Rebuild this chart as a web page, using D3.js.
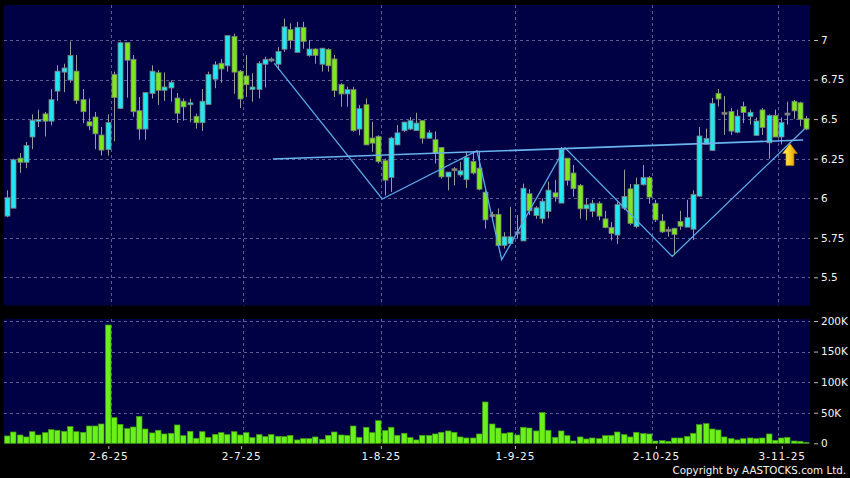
<!DOCTYPE html>
<meta charset="utf-8">
<head>
  <title>Candles</title>
</head>

<style>
body {
  margin: 0;
  background: #000;
}
svg text {
  font-family: "DejaVu Sans", sans-serif;
}
</style>

<body>
  <svg width="850" height="478"></svg>

  <script src="https://cdnjs.cloudflare.com/ajax/libs/d3/7.8.5/d3.min.js"></script>

  <script>
// Daily prices, mid May 2025 to early Nov 2025
var open = [5.89,5.94,6.25,6.23,6.39,6.49,6.53,6.49,6.68,6.80,6.75,6.80,6.62,6.48,6.51,6.396,
  6.31,6.78,6.57,6.98,6.875,6.55,6.44,6.665,6.79,6.685,6.70,6.63,6.61,6.595,6.515,6.48,
  6.595,6.755,6.85,6.84,7.02,6.80,6.77,6.69,6.69,6.85,6.877,6.85,6.945,7.063,6.925,7.077,
  6.905,6.94,6.85,6.937,6.877,6.715,6.662,6.683,6.44,6.588,6.377,6.388,6.234,6.134,6.34,6.43,
  6.44,6.43,6.487,6.382,6.367,6.318,6.138,6.183,6.15,6.12,6.23,6.187,6.035,5.893,5.895,5.705,
  5.716,5.784,5.733,6.025,5.893,5.873,5.92,6.031,5.972,6.25,6.156,6.078,5.936,5.92,5.965,5.866,
  5.813,5.77,5.94,6.056,5.823,6.088,6.127,5.965,5.853,5.80,5.807,5.85,5.82,5.807,6.016,6.344,
  6.305,6.66,6.54,6.545,6.42,6.576,6.52,6.40,6.555,6.353,6.52,6.39,6.535,6.61,6.60,6.50];
var high = [6.05,6.25,6.285,6.355,6.53,6.56,6.545,6.69,6.84,6.85,6.99,6.905,6.69,6.63,6.545,6.45,
  6.53,6.80,6.99,6.98,6.905,6.64,6.665,6.84,6.81,6.795,6.745,6.665,6.63,6.63,6.535,6.69,
  6.80,6.865,6.88,7.025,7.04,6.81,6.905,6.79,6.865,6.895,6.89,6.955,7.135,7.105,7.115,7.115,
  7.0,6.948,6.948,6.948,6.905,6.727,6.705,6.704,6.588,6.63,6.483,6.398,6.25,6.388,6.462,6.483,
  6.513,6.54,6.493,6.43,6.422,6.324,6.166,6.197,6.23,6.297,6.297,6.30,6.05,5.915,5.935,5.785,
  5.945,5.893,6.092,6.057,5.95,6.0,6.105,6.116,6.323,6.25,6.21,6.09,6.0,5.99,5.98,5.92,
  5.85,5.975,6.18,6.09,6.13,6.21,6.14,5.99,5.90,5.82,5.81,5.92,5.99,6.05,6.45,6.44,
  6.634,6.69,6.645,6.57,6.56,6.61,6.56,6.51,6.57,6.53,6.56,6.51,6.61,6.62,6.61,6.52];
var low = [5.88,5.94,6.16,6.19,6.31,6.45,6.39,6.46,6.615,6.67,6.73,6.595,6.475,6.43,6.31,6.27,
  6.27,6.36,6.565,6.635,6.515,6.37,6.37,6.63,6.59,6.615,6.61,6.475,6.49,6.48,6.44,6.425,
  6.595,6.695,6.73,6.80,6.66,6.57,6.64,6.61,6.63,6.70,6.86,6.81,6.925,6.945,6.92,6.945,
  6.895,6.85,6.80,6.80,6.64,6.578,6.578,6.42,6.398,6.34,6.293,6.219,6.017,6.04,6.335,6.42,
  6.43,6.43,6.345,6.377,6.219,6.124,6.05,6.082,6.135,6.065,6.15,6.05,5.808,5.865,5.697,5.682,
  5.712,5.744,5.733,5.893,5.87,5.84,5.873,5.978,5.972,6.08,6.01,5.87,5.86,5.88,5.86,5.81,
  5.733,5.71,5.925,5.83,5.81,6.08,5.965,5.85,5.78,5.757,5.64,5.80,5.82,5.735,6.01,6.34,
  6.30,6.58,6.40,6.40,6.41,6.475,6.465,6.395,6.40,6.25,6.39,6.34,6.465,6.50,6.455,6.43];
var close = [6.00,6.24,6.23,6.33,6.49,6.495,6.49,6.62,6.80,6.82,6.90,6.62,6.55,6.46,6.41,6.307,
  6.475,6.64,6.98,6.875,6.55,6.44,6.665,6.80,6.685,6.70,6.73,6.54,6.58,6.60,6.48,6.61,
  6.78,6.84,6.82,7.025,6.80,6.63,6.72,6.70,6.85,6.875,6.877,6.925,7.08,7.0,7.077,6.994,
  6.94,6.905,6.945,6.84,6.683,6.662,6.683,6.43,6.563,6.34,6.351,6.234,6.117,6.377,6.41,6.478,
  6.487,6.472,6.382,6.41,6.288,6.138,6.162,6.183,6.17,6.255,6.162,6.06,5.866,5.893,5.703,5.753,
  5.753,5.784,6.06,5.923,5.936,5.978,6.048,6.01,6.305,6.115,6.063,5.936,5.955,5.965,5.89,5.817,
  5.78,5.957,6.008,5.844,6.084,6.127,6.01,5.866,5.79,5.80,5.773,5.826,5.874,6.02,6.39,6.375,
  6.597,6.63,6.54,6.427,6.516,6.545,6.54,6.485,6.45,6.52,6.39,6.475,6.535,6.555,6.50,6.44];
// Volume in thousands of shares
var volume = [12,18.5,13.6,10.4,19,13.6,17.4,22.3,21.3,19.6,27.3,19,18,28.3,28.3,31.6,
  193.5,42,31,24,26.7,44,23.4,17,21.3,15.3,16.4,30,12.5,19.6,8.2,19,
  9.8,14.7,17.4,14.2,19,13.6,17.4,9.3,14.2,10.9,14.2,11.4,10.9,13,5.5,7.6,
  7.6,10.4,6.5,13,18.5,13.6,13,28.3,9.8,26.2,17.4,37,20.7,26.2,13,16.4,
  9.3,5.5,13,13,15.3,18,20.2,18,10.4,8.7,8.7,15.3,67.6,31.6,25,16.4,
  17.4,13.6,26.2,25,20.2,50.2,21.3,9.8,20.2,12.5,3.8,10.4,7.1,8.7,7.6,12.5,
  13,18.5,14.2,10.4,18,15.8,15.3,3.8,4.4,3.3,8.7,8.7,11.4,16.4,30.5,32.2,
  23.4,21.8,10.4,7.6,5.5,7.6,8.7,7.6,8.7,15.3,4.9,8.7,9.8,3.8,3.3,1.6];

// Axis labels
var dateLabels = ['2-6-25', '2-7-25', '1-8-25', '1-9-25', '2-10-25', '3-11-25'];
var dateIdx = [16.1, 37.2, 59.4, 80.7, 103.1, 123.1];
var gridIdx = [16.6, 37.5, 59.5, 80.7, 102.5, 122.5];
var priceTicks = [5.5, 5.75, 6, 6.25, 6.5, 6.75, 7];
var volTicks = [0, 50, 100, 150, 200];
var volLabels = ['0', '50K', '100K', '150K', '200K'];

// Drawn pattern (candle index, price)
var zigzag = [[42.47, 6.852], [59.63, 5.995], [74.68, 6.30], [78.6, 5.611],
  [88.66, 6.319], [105.7, 5.632], [126.7, 6.438]];
var neckline = [[42.26, 6.2475], [126.5, 6.368]];
var arrowAt = [124.4, 6.345];

var svg = d3.select('svg');
var idx = d3.range(close.length);

var main = {x0: 4, x1: 810, y0: 5, y1: 305.5};
var vol = {x0: 4, x1: 810, y0: 319, y1: 444};

var x = d3.scaleLinear().domain([0, 127]).range([7, 806.3]);
var yP = d3.scaleLinear().domain([5.5, 7]).range([277.3, 40]);
var yV = d3.scaleLinear().domain([0, 200]).range([443.3, 321]);

svg.append('rect').attr('width', 850).attr('height', 478).attr('fill', '#000');

[main, vol].forEach(function(p) {
  svg.append('rect')
    .attr('x', p.x0).attr('y', p.y0)
    .attr('width', p.x1 - p.x0).attr('height', p.y1 - p.y0)
    .attr('fill', '#000044');
});

// Grid
var grid = svg.append('g')
  .attr('stroke', '#5c5c94')
  .attr('stroke-dasharray', '3,3')
  .attr('stroke-width', 1);

grid.selectAll('.hp').data(priceTicks).join('line')
  .attr('x1', main.x0).attr('x2', main.x1)
  .attr('y1', function(d) { return Math.round(yP(d)) + 0.5; })
  .attr('y2', function(d) { return Math.round(yP(d)) + 0.5; });

grid.selectAll('.hv').data(volTicks.slice(1)).join('line')
  .attr('x1', vol.x0).attr('x2', vol.x1)
  .attr('y1', function(d) { return Math.round(yV(d)) + 0.5; })
  .attr('y2', function(d) { return Math.round(yV(d)) + 0.5; });

[main, vol].forEach(function(p) {
  grid.append('g').selectAll('line').data(gridIdx).join('line')
    .attr('x1', function(d) { return Math.round(x(d)) + 0.5; })
    .attr('x2', function(d) { return Math.round(x(d)) + 0.5; })
    .attr('y1', p.y0).attr('y2', p.y1);
});

// Candles
var upColor = '#22e6f2', downColor = '#7ee81e';
var candles = svg.append('g');

candles.selectAll('.wick').data(idx).join('line')
  .attr('x1', function(i) { return Math.round(x(i)) + 0.5; })
  .attr('x2', function(i) { return Math.round(x(i)) + 0.5; })
  .attr('y1', function(i) { return yP(high[i]); })
  .attr('y2', function(i) { return yP(low[i]); })
  .attr('stroke', '#9a9a9a')
  .attr('stroke-width', 1);

candles.selectAll('.body').data(idx).join('rect')
  .attr('x', function(i) { return Math.round(x(i)) - 2; })
  .attr('width', 5)
  .attr('y', function(i) { return yP(Math.max(open[i], close[i])) - 0.5; })
  .attr('height', function(i) { return Math.max(2, Math.abs(yP(open[i]) - yP(close[i])) + 1); })
  .attr('fill', function(i) {
    if (Math.abs(open[i] - close[i]) < 0.004) return '#8a8a8a';
    return close[i] > open[i] ? upColor : downColor;
  })
  .attr('stroke', '#7a7a7a')
  .attr('stroke-width', 0.8);

// Volume
svg.append('g').selectAll('rect').data(idx).join('rect')
  .attr('x', function(i) { return Math.round(x(i)) - 2.5; })
  .attr('width', 5.5)
  .attr('y', function(i) { return yV(volume[i]); })
  .attr('height', function(i) { return yV(0) - yV(volume[i]); })
  .attr('fill', '#6af01a')
  .attr('stroke', '#3f9a12')
  .attr('stroke-width', 0.7);

// Pattern lines
var line = d3.line()
  .x(function(d) { return x(d[0]); })
  .y(function(d) { return yP(d[1]); });

svg.append('path').datum(zigzag)
  .attr('d', line).attr('fill', 'none')
  .attr('stroke', '#5aaae6').attr('stroke-width', 1.3);

svg.append('path').datum(neckline)
  .attr('d', line).attr('fill', 'none')
  .attr('stroke', '#6ab4ec').attr('stroke-width', 1.6);

// Yellow arrow
var grad = svg.append('defs').append('linearGradient')
  .attr('id', 'arrowGrad').attr('x1', 0).attr('x2', 1).attr('y1', 0).attr('y2', 0);
grad.append('stop').attr('offset', '0%').attr('stop-color', '#fff2a0');
grad.append('stop').attr('offset', '45%').attr('stop-color', '#ffd21c');
grad.append('stop').attr('offset', '100%').attr('stop-color', '#d08a00');

var ax = x(arrowAt[0]), ay = yP(arrowAt[1]);
svg.append('path')
  .attr('d', 'M' + ax + ',' + ay +
    'L' + (ax + 7.5) + ',' + (ay + 10) +
    'L' + (ax + 4) + ',' + (ay + 10) +
    'L' + (ax + 4) + ',' + (ay + 22) +
    'L' + (ax - 4) + ',' + (ay + 22) +
    'L' + (ax - 4) + ',' + (ay + 10) +
    'L' + (ax - 7.5) + ',' + (ay + 10) + 'Z')
  .attr('fill', 'url(#arrowGrad)')
  .attr('stroke', '#c08000').attr('stroke-width', 0.6);

// Axes
var priceAxis = d3.axisRight(yP)
  .tickValues(priceTicks)
  .tickSize(4)
  .tickPadding(3)
  .tickFormat(function(d) { return String(d); });

var volAxis = d3.axisRight(yV)
  .tickValues(volTicks)
  .tickSize(4)
  .tickPadding(3)
  .tickFormat(function(d, i) { return volLabels[i]; });

function styleAxis(g) {
  g.select('.domain').remove();
  g.selectAll('line').attr('stroke', '#bbbbbb');
  g.selectAll('text').attr('fill', '#f4f4f4').attr('font-size', 10.5);
}

svg.append('g').attr('transform', 'translate(814,0)').call(priceAxis).call(styleAxis);
svg.append('g').attr('transform', 'translate(814,0)').call(volAxis).call(styleAxis);

var dateScale = d3.scaleOrdinal().domain(dateLabels)
  .range(dateIdx.map(function(d) { return x(d); }));

var dateAxis = d3.axisBottom(dateScale)
  .tickSize(3)
  .tickPadding(4);

var dg = svg.append('g').attr('transform', 'translate(0,446)').call(dateAxis);
dg.select('.domain').remove();
dg.selectAll('line').attr('stroke', '#bbbbbb');
dg.selectAll('text').attr('fill', '#f4f4f4').attr('font-size', 10.5)
  .attr('letter-spacing', 0.9);

svg.append('text')
  .attr('x', 846).attr('y', 474)
  .attr('text-anchor', 'end')
  .attr('font-size', 10.3)
  .attr('fill', '#f4f4f4')
  .text('Copyright by AASTOCKS.com Ltd.');
  </script>
</body>
</html>
